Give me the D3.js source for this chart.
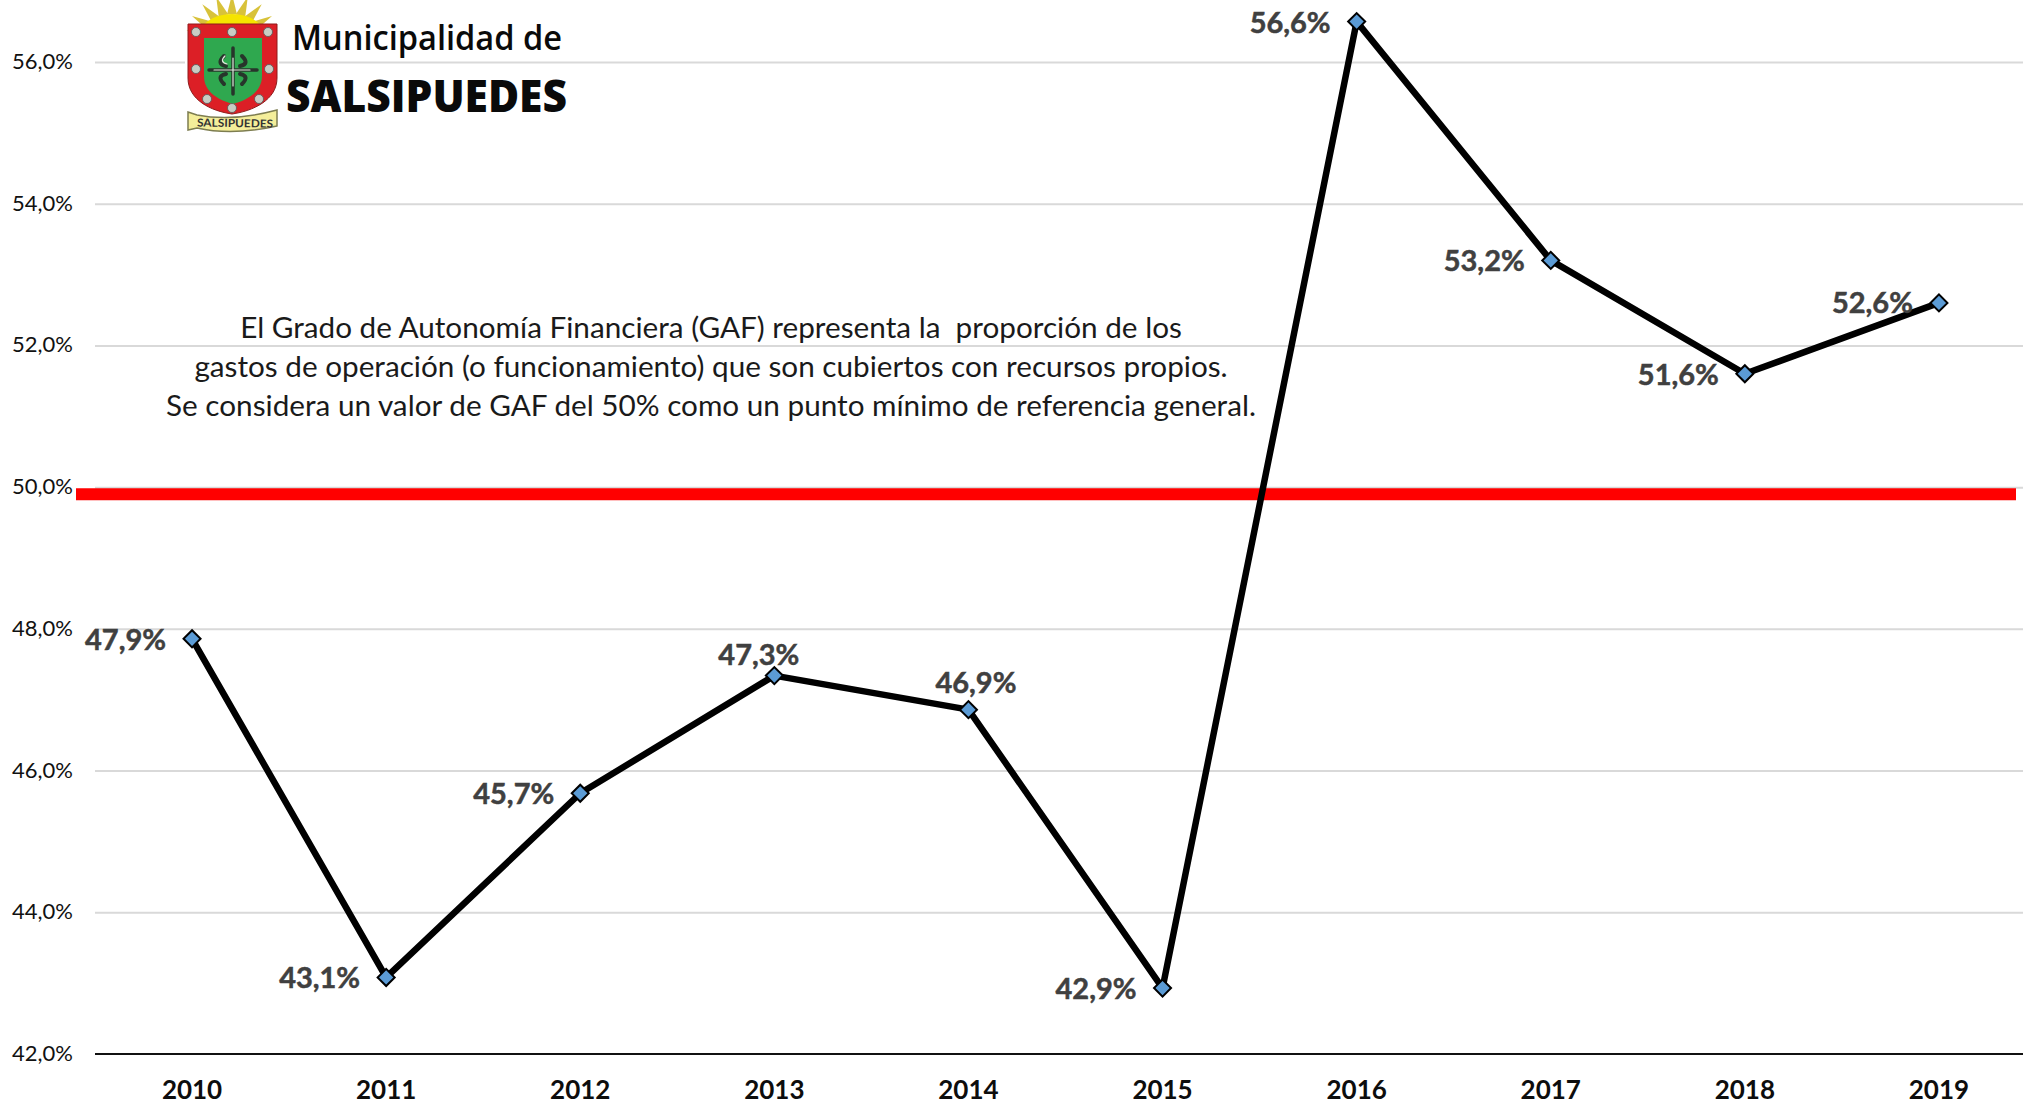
<!DOCTYPE html>
<html>
<head>
<meta charset="utf-8">
<script src="https://cdnjs.cloudflare.com/ajax/libs/d3/7.8.5/d3.min.js"></script>
<style>
html, body { margin: 0; padding: 0; background: #fff; overflow: hidden; }
svg { display: block; font-family: Lato, sans-serif; }
.grid .domain { display: none; }
.grid line { stroke: #d9d9d9; stroke-width: 2; }
</style>
</head>
<body>
<div id="chart"></div>
<script>
// Datos
const years = ["2010", "2011", "2012", "2013", "2014", "2015", "2016", "2017", "2018", "2019"];
const gaf = [47.86, 43.08, 45.68, 47.34, 46.86, 42.93, 56.57, 53.2, 51.6, 52.6];
const yTicks = [42, 44, 46, 48, 50, 52, 54, 56];
const referencia = 49.9;
const notaLineas = [
	"El Grado de Autonomía Financiera (GAF) representa la  proporción de los",
	"gastos de operación (o funcionamiento) que son cubiertos con recursos propios.",
	"Se considera un valor de GAF del 50% como un punto mínimo de referencia general."
];

const width = 2023, height = 1104;
const left = 95, bandW = 194.1;

const x = d3.scaleBand()
	.domain(years)
	.range([left, left + bandW * years.length]);

const y = d3.scaleLinear()
	.domain([42, 56])
	.range([1054, 62]);

const svg = d3.select("#chart")
	.append("svg")
	.attr("width", width)
	.attr("height", height);

/***** rejilla y ejes *****/

const gridW = width - left;
const grid = svg.append("g")
	.attr("class", "grid")
	.attr("transform", "translate(" + left + ",0)")
	.call(d3.axisLeft(y).tickValues(yTicks.filter(function(d){ return d > 42; })).tickSize(-gridW).tickFormat(""));

const fmt = function(d, n){ return d.toFixed(n).replace(".", ","); };

svg.selectAll(".ylab")
	.data(yTicks)
	.enter()
	.append("text")
	.attr("class", "ylab")
	.attr("x", 73)
	.attr("y", function(d){ return y(d) + 7; })
	.attr("text-anchor", "end")
	.attr("fill", "#111")
	.style("font-size", "22px")
	.text(function(d){ return fmt(d, 1) + "%"; });

svg.append("line")
	.attr("x1", left)
	.attr("x2", width)
	.attr("y1", y(42))
	.attr("y2", y(42))
	.attr("stroke", "#111")
	.attr("stroke-width", 2);

svg.selectAll(".xlab")
	.data(years)
	.enter()
	.append("text")
	.attr("class", "xlab")
	.attr("x", function(d){ return x(d) + x.bandwidth() / 2; })
	.attr("y", 1098.5)
	.attr("text-anchor", "middle")
	.attr("fill", "#0d0d0d")
	.style("font-size", "26px")
	.style("font-weight", 700)
	.text(function(d){ return d; });

/***** linea de referencia *****/

svg.append("line")
	.attr("x1", 76)
	.attr("x2", 2016)
	.attr("y1", y(referencia))
	.attr("y2", y(referencia))
	.attr("stroke", "#ff0000")
	.attr("stroke-width", 12);

/***** nota *****/

svg.selectAll(".nota")
	.data(notaLineas)
	.enter()
	.append("text")
	.attr("class", "nota")
	.attr("x", 711)
	.attr("y", function(d, i){ return 338 + i * 39; })
	.attr("text-anchor", "middle")
	.attr("fill", "#1a1a1a")
	.style("font-size", "29.7px")
	.style("white-space", "pre")
	.text(function(d){ return d; });

/***** serie *****/

const line = d3.line()
	.x(function(d, i){ return x(years[i]) + x.bandwidth() / 2; })
	.y(function(d){ return y(d); });

svg.append("path")
	.datum(gaf)
	.attr("d", line)
	.attr("fill", "none")
	.attr("stroke", "#000")
	.attr("stroke-width", 6.5)
	.attr("stroke-linejoin", "round");

svg.selectAll(".punto")
	.data(gaf)
	.enter()
	.append("path")
	.attr("class", "punto")
	.attr("d", d3.symbol().type(d3.symbolSquare).size(145))
	.attr("transform", function(d, i){
		return "translate(" + (x(years[i]) + x.bandwidth() / 2) + "," + y(d) + ") rotate(45)";
	})
	.attr("fill", "#5b9bd5")
	.attr("stroke", "#000")
	.attr("stroke-width", 2);

// desplazamiento de cada etiqueta respecto de su punto
const labelDx = [-26, -26, -26, 25, 48, -26, -26, -26, -26, -26];
const labelDy = [11, 11, 11, -11, -17, 11, 11, 11, 11, 10];

svg.selectAll(".etq")
	.data(gaf)
	.enter()
	.append("text")
	.attr("class", "etq")
	.attr("x", function(d, i){ return x(years[i]) + x.bandwidth() / 2 + labelDx[i]; })
	.attr("y", function(d, i){ return y(d) + labelDy[i]; })
	.attr("text-anchor", "end")
	.attr("fill", "#404040")
	.attr("stroke", "#404040")
	.attr("stroke-width", 0.5)
	.style("font-size", "29px")
	.style("font-weight", 700)
	.text(function(d){ return fmt(d, 1) + "%"; });

/***** logo *****/

const logo = svg.append("g");

logo.append("rect")
	.attr("x", 185).attr("y", 0).attr("width", 94).attr("height", 136)
	.attr("fill", "#fff");

const sun = d3.range(0, 9).map(function(i){
	return Math.PI * (i + 0.5) / 9;
});
logo.selectAll(".rayo")
	.data(sun)
	.enter()
	.append("path")
	.attr("d", function(a){
		const cx = 232, cy = 38, r0 = 24, r1 = 44, w = 0.2;
		const p = function(r, t){ return (cx - r * 1.05 * Math.cos(t)) + "," + (cy - r * Math.sin(t)); };
		return "M" + p(r0, a - w) + "L" + p(r1, a) + "L" + p(r0, a + w) + "Z";
	})
	.attr("fill", "#d8c23a");
logo.append("ellipse")
	.attr("cx", 232).attr("cy", 38).attr("rx", 34).attr("ry", 24)
	.attr("fill", "#f5e400");

logo.append("path")
	.attr("d", "M188,24H277V78C277,100 253,111 232,114C211,111 188,100 188,78Z")
	.attr("fill", "#dc1f26")
	.attr("stroke", "#8e1b1b")
	.attr("stroke-width", 1);
logo.append("path")
	.attr("d", "M204,38H262V76C262,92 247,100 233,104C218,100 204,92 204,76Z")
	.attr("fill", "#2fa84f");

const cross = logo.append("g").attr("fill", "none").attr("stroke-linecap", "round");
cross.append("path")
	.attr("d", "M233,48V94M209,70H257")
	.attr("stroke", "#27352b").attr("stroke-width", 3.5);
cross.append("path")
	.attr("d", "M224,56Q216,64 226,66M242,56Q250,64 240,66M224,84Q216,76 226,74M242,84Q250,76 240,74")
	.attr("stroke", "#27352b").attr("stroke-width", 4);
cross.append("path")
	.attr("d", "M225,56Q219,62 227,64M250,70H214M233,58V86")
	.attr("stroke", "#dfe8dc").attr("stroke-width", 1.2);

const clavos = [[196, 32], [232, 32], [268, 32], [196, 69], [269, 69], [207, 99], [232, 108], [259, 99]];
logo.selectAll(".clavo")
	.data(clavos)
	.enter()
	.append("circle")
	.attr("cx", function(d){ return d[0]; })
	.attr("cy", function(d){ return d[1]; })
	.attr("r", 4.5)
	.attr("fill", "#c9ccc4")
	.attr("stroke", "#555")
	.attr("stroke-width", 0.8);

logo.append("path")
	.attr("d", "M188,112L197,115Q232,122 277,110L277,126Q232,136 197,128L188,130Z")
	.attr("fill", "#f4ee9a")
	.attr("stroke", "#7d7d50")
	.attr("stroke-width", 1.5);
logo.append("text")
	.attr("x", 235).attr("y", 127)
	.attr("text-anchor", "middle")
	.attr("fill", "#333")
	.attr("textLength", 76)
	.attr("lengthAdjust", "spacingAndGlyphs")
	.attr("transform", "rotate(1 232 125)")
	.style("font-size", "11px")
	.style("font-weight", 700)
	.text("SALSIPUEDES");

logo.append("text")
	.attr("x", 292).attr("y", 50)
	.attr("fill", "#0a0a0a")
	.attr("textLength", 270)
	.attr("lengthAdjust", "spacingAndGlyphs")
	.style("font-family", "'Open Sans', sans-serif")
	.style("font-size", "35px")
	.style("font-weight", 600)
	.text("Municipalidad de");

logo.append("text")
	.attr("x", 286).attr("y", 112)
	.attr("fill", "#0a0a0a")
	.attr("textLength", 281)
	.attr("lengthAdjust", "spacingAndGlyphs")
	.style("font-family", "'Open Sans', sans-serif")
	.style("font-size", "44px")
	.style("font-weight", 800)
	.text("SALSIPUEDES");
</script>
</body>
</html>
